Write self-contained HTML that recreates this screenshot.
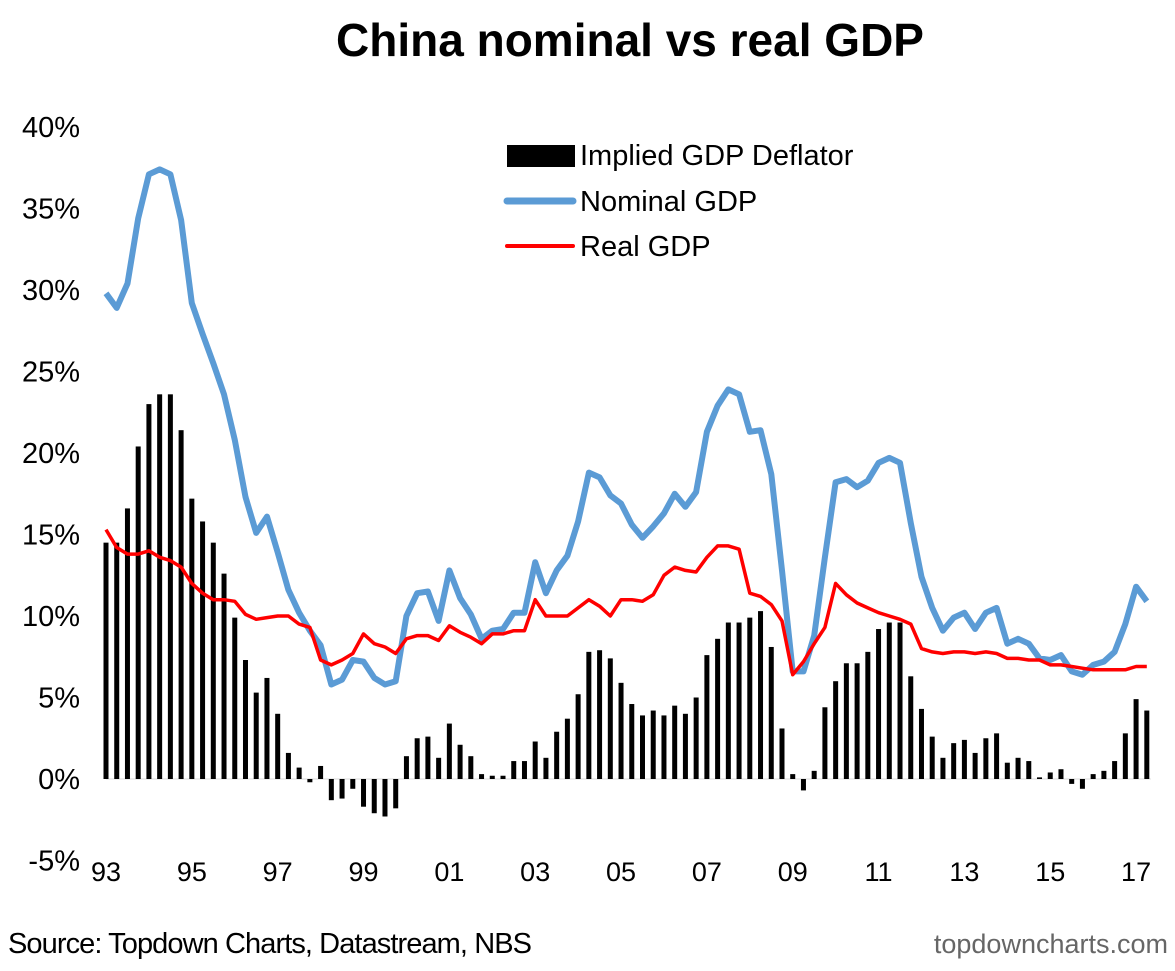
<!DOCTYPE html>
<html><head><meta charset="utf-8"><style>
body{margin:0;background:#fff;font-family:"Liberation Sans",Arial,sans-serif;}
</style></head><body>
<svg id="chart" width="1175" height="966" viewBox="0 0 1175 966" xmlns="http://www.w3.org/2000/svg">
<text x="630" y="56" text-anchor="middle" font-size="46" font-weight="bold">China nominal vs real GDP</text>
<g id="yaxis"></g>
<g id="xaxis"></g>
<g id="bars"></g>
<g id="lines"></g>
<g>
<rect x="507" y="145" width="68" height="22" fill="#000"/>
<text x="580" y="165" font-size="29">Implied GDP Deflator</text>
<line x1="507" y1="201" x2="573" y2="201" stroke="#5b9bd5" stroke-width="7" stroke-linecap="round"/>
<text x="580" y="211" font-size="29">Nominal GDP</text>
<line x1="507" y1="246" x2="573" y2="246" stroke="#ff0000" stroke-width="4" stroke-linecap="round"/>
<text x="580" y="256" font-size="29">Real GDP</text>
</g>
<text x="8" y="953" font-size="29" textLength="524">Source: Topdown Charts, Datastream, NBS</text>
<text x="1168" y="953" font-size="27" fill="#666" text-anchor="end">topdowncharts.com</text>
</svg>
<script>
const deflator=[14.5,14.5,16.6,20.4,23.0,23.6,23.6,21.4,17.2,15.8,14.5,12.6,9.9,7.3,5.3,6.2,4.0,1.6,0.7,-0.2,0.8,-1.3,-1.2,-0.6,-1.7,-2.1,-2.3,-1.8,1.4,2.5,2.6,1.3,3.4,2.1,1.4,0.3,0.2,0.2,1.1,1.1,2.3,1.3,2.9,3.7,5.2,7.8,7.9,7.4,5.9,4.6,3.9,4.2,3.9,4.5,4.0,5.0,7.6,8.6,9.6,9.6,9.9,10.3,8.1,3.1,0.3,-0.7,0.5,4.4,6.0,7.1,7.1,7.8,9.2,9.6,9.6,6.3,4.3,2.6,1.3,2.2,2.4,1.6,2.5,2.8,1.0,1.3,1.1,0.1,0.4,0.6,-0.3,-0.6,0.3,0.5,1.1,2.8,4.9,4.2];
const realGdp=[15.3,14.2,13.8,13.8,14.0,13.6,13.4,13.0,12.0,11.4,11.0,11.0,10.9,10.1,9.8,9.9,10.0,10.0,9.5,9.3,7.3,7.0,7.3,7.7,8.9,8.3,8.1,7.7,8.6,8.8,8.8,8.5,9.4,9.0,8.7,8.3,8.9,8.9,9.1,9.1,11.0,10.0,10.0,10.0,10.5,11.0,10.6,10.0,11.0,11.0,10.9,11.3,12.5,13.0,12.8,12.7,13.6,14.3,14.3,14.1,11.4,11.2,10.7,9.7,6.4,7.2,8.3,9.3,12.0,11.3,10.8,10.5,10.2,10.0,9.8,9.5,8.0,7.8,7.7,7.8,7.8,7.7,7.8,7.7,7.4,7.4,7.3,7.3,7.0,7.0,6.9,6.8,6.7,6.7,6.7,6.7,6.9,6.9];
const nominalGdp=[29.8,28.9,30.4,34.4,37.1,37.4,37.1,34.3,29.2,27.3,25.5,23.6,20.8,17.3,15.1,16.1,13.9,11.6,10.2,9.1,8.2,5.8,6.1,7.3,7.2,6.2,5.8,6.0,10.0,11.4,11.5,9.7,12.8,11.1,10.1,8.6,9.1,9.2,10.2,10.2,13.3,11.4,12.8,13.7,15.8,18.8,18.5,17.4,16.9,15.6,14.8,15.5,16.3,17.5,16.7,17.6,21.3,22.9,23.9,23.6,21.3,21.4,18.7,12.8,6.6,6.6,8.8,13.6,18.2,18.4,17.9,18.3,19.4,19.7,19.4,15.7,12.4,10.5,9.1,9.9,10.2,9.2,10.2,10.5,8.3,8.6,8.3,7.4,7.3,7.6,6.6,6.4,7.0,7.2,7.8,9.5,11.8,10.9];
const yTicks=[-5,0,5,10,15,20,25,30,35,40];
const xLabels=["93","95","97","99","01","03","05","07","09","11","13","15","17"];
const NS="http://www.w3.org/2000/svg";
const x=i=>106+i*10.73;
const y=v=>779-v*16.3;
function mk(tag,attrs,parent){const e=document.createElementNS(NS,tag);for(const k in attrs)e.setAttribute(k,attrs[k]);parent.appendChild(e);return e;}
const ya=document.getElementById('yaxis');
yTicks.forEach(t=>{const e=mk('text',{x:80,y:y(t)+10,'text-anchor':'end','font-size':29},ya);e.textContent=t+'%';

});
const xa=document.getElementById('xaxis');
const ax=mk('line',{x1:x(0),x2:x(deflator.length-1)+4,y1:y(0),y2:y(0),stroke:'#d9d9d9','stroke-width':1},xa);


xLabels.forEach((l,k)=>{const e=mk('text',{x:x(k*8),y:881,'text-anchor':'middle','font-size':27},xa);e.textContent=l;

});
const bg=document.getElementById('bars');
deflator.forEach((v,i)=>{const r=mk('rect',{x:x(i)-2.5,y:Math.min(y(v),y(0)),width:5,height:Math.abs(y(v)-y(0)),fill:'#000'},bg);

});
const lg=document.getElementById('lines');
const pts=a=>a.map((v,i)=>x(i).toFixed(1)+','+y(v).toFixed(1)).join(' ');
const n=mk('polyline',{points:pts(nominalGdp),fill:'none',stroke:'#5b9bd5','stroke-width':6,'stroke-linejoin':'round'},lg);


const r=mk('polyline',{points:pts(realGdp),fill:'none',stroke:'#ff0000','stroke-width':3.5,'stroke-linejoin':'round'},lg);


</script>
</body></html>
